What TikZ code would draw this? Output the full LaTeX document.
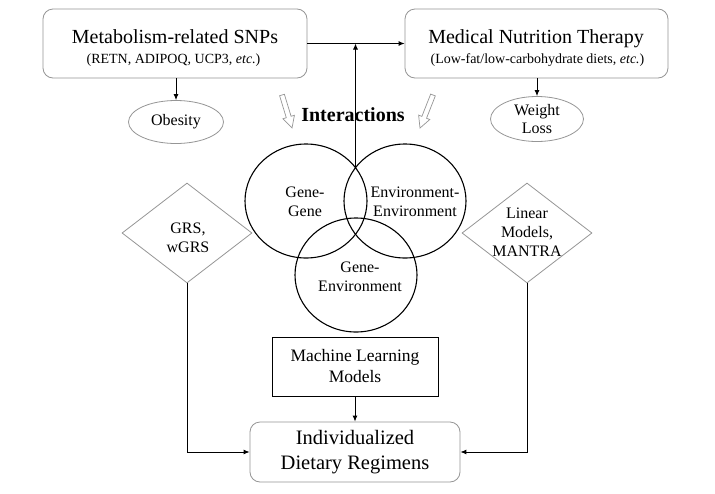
\documentclass[tikz,border=0pt]{standalone}
\usepackage{fontspec}
\setmainfont{Liberation Serif}
\usetikzlibrary{shapes.geometric,arrows.meta}
\definecolor{boxgray}{RGB}{150,150,150}
\begin{document}
\begin{tikzpicture}[x=1pt,y=-1pt,
 rbox/.style={draw=boxgray, line width=0.8pt, rounded corners=10pt, inner sep=0pt},
 oval/.style={ellipse, draw=boxgray, line width=0.8pt, inner sep=0pt},
 venn/.style={ellipse, draw=black, line width=1.1pt, minimum width=122pt, minimum height=114pt, inner sep=0pt},
 txt/.style={align=center, inner sep=0pt, font=\fontsize{16}{19}\selectfont},
 ttl/.style={inner sep=0pt, anchor=base, font=\fontsize{20}{24}\selectfont},
 sub/.style={inner sep=0pt, anchor=base, font=\fontsize{14}{16}\selectfont},
 dia/.style={diamond, draw=boxgray, line width=0.8pt, minimum width=130pt, minimum height=100pt, inner sep=0pt},
 arr/.style={-{Latex[length=6pt,width=5pt]}, line width=0.9pt},
 hollow/.style={draw=boxgray, line width=0.7pt, fill=white}]
\useasboundingbox (0,0) rectangle (715,493);
\fill[white] (0,0) rectangle (715,493);

% top boxes
\node[rbox, minimum width=264pt, minimum height=69pt] (snp) at (175,43.5) {};
\node[ttl] (snpt) at (175,43) {Metabolism-related SNPs};
\node[sub] (snps) at (173.5,63) {(RETN, ADIPOQ, UCP3, \textit{etc.})};

\node[rbox, minimum width=263pt, minimum height=69pt] (mnt) at (536.5,43.5) {};
\node[ttl] (mntt) at (536,43) {Medical Nutrition Therapy};
\node[sub] (mnts) at (537.5,63) {(Low-fat/low-carbohydrate diets, \textit{etc.})};

% ellipses
\node[oval, minimum width=95pt, minimum height=43pt] (obe) at (176,122) {};
\node[txt] (obet) at (176,122) {Obesity};
\node[oval, minimum width=93pt, minimum height=45pt] (wl) at (537,119) {};
\node[txt, font=\fontsize{16}{18}\selectfont] (wlt) at (537,119) {Weight\\Loss};

\draw[arr] (snp.south -| obe.north) -- (obe.north);
\draw[arr] (mnt.south -| wl.north) -- (wl.north);

% interactions
\node[inner sep=0pt, font=\fontsize{20}{24}\selectfont\bfseries] (inter) at (353,115) {Interactions};
\draw[hollow, shift={(282,95)}, rotate=-73.1] (0,2.5) -- (23,2.5) -- (23,6) -- (34.5,0) -- (23,-6) -- (23,-2.5) -- (0,-2.5) -- cycle;
\draw[hollow, shift={(433,95)}, rotate=-111.5] (0,2.5) -- (24,2.5) -- (24,6) -- (35.5,0) -- (24,-6) -- (24,-2.5) -- (0,-2.5) -- cycle;

% venn
\node[venn] (gg) at (306,201) {};
\node[venn] (ee) at (405,201) {};
\node[venn] (ge) at (356,275) {};
\node[txt] (ggt) at (305,202) {Gene-\\Gene};
\node[txt] (eet) at (415,202) {Environment-\\Environment};
\node[txt] (get) at (360,277) {Gene-\\Environment};

\coordinate (vbot) at (355.5,167.5);
\draw[arr] (vbot) -- (vbot |- snp.east);
\draw[arr] (snp.east) -- (mnt.west);

% diamonds
\node[dia] (grs) at (187,233) {};
\node[txt] (grst) at (188,238) {GRS,\\wGRS};
\node[dia] (lin) at (527,233) {};
\node[txt] (lint) at (527,232) {Linear\\Models,\\MANTRA};

% bottom
\node[draw=black, line width=0.8pt, minimum width=166pt, minimum height=59pt, inner sep=0pt] (ml) at (355,366.5) {};
\node[txt, font=\fontsize{17.5}{21}\selectfont] (mlt) at (355,366) {Machine Learning\\Models};
\node[rbox, minimum width=210pt, minimum height=60pt] (ind) at (355,452) {};
\node[txt, font=\fontsize{20.5}{25}\selectfont] (indt) at (355,452) {Individualized\\Dietary Regimens};

\draw[arr] (ml.south) -- (ind.north);
\draw[arr] (grs.south) |- (ind.west);
\draw[arr] (lin.south) |- (ind.east);
\end{tikzpicture}
\end{document}
